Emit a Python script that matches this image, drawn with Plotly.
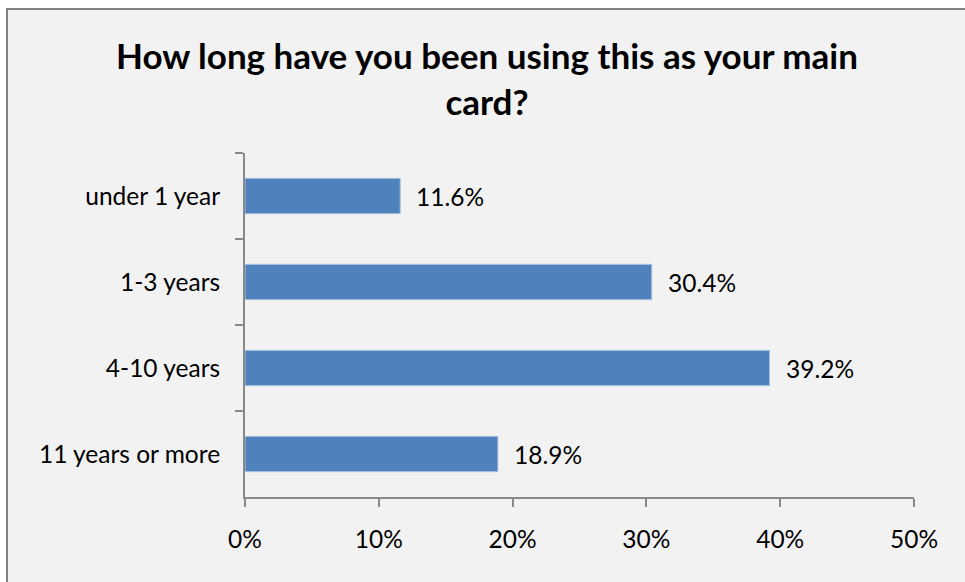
import plotly.graph_objects as go

# Survey results: how long respondents have used this as their main card
categories = ["under 1 year", "1-3 years", "4-10 years", "11 years or more"]
shares = [11.6, 30.4, 39.2, 18.9]
x_ticks = [0, 10, 20, 30, 40, 50]
x_tick_labels = ["0%", "10%", "20%", "30%", "40%", "50%"]

W, H = 965, 582
ML, MR, MT, MB = 245, 51, 153, 85
PW, PH = W - ML - MR, H - MT - MB


def px_to_paper_x(px):
    return (px - ML) / PW


def px_to_paper_y(py):
    return (H - MB - py) / PH


font_family = "Lato, 'Open Sans', sans-serif"
axis_grey = "#898989"
label_size = 24.5

fig = go.Figure()
fig.add_trace(go.Bar(
    y=categories,
    x=shares,
    orientation="h",
    marker=dict(color="#4f81bd", line=dict(color="#a9c1df", width=1)),
    hoverinfo="skip",
))

# value labels to the right of each bar
for cat, val in zip(categories, shares):
    fig.add_annotation(
        x=val, y=cat, xref="x", yref="y",
        text=f"{val:.1f}%", showarrow=False,
        xanchor="left", yanchor="middle", xshift=14,
        font=dict(family=font_family, size=label_size, color="#000000"),
    )

# chart area frame (extends past the right and bottom edges)
fig.add_shape(
    type="rect", xref="paper", yref="paper", layer="below",
    x0=px_to_paper_x(7), x1=px_to_paper_x(W + 20),
    y0=px_to_paper_y(H + 20), y1=px_to_paper_y(9),
    fillcolor="#f2f2f2", line=dict(color="#808080", width=2),
)

fig.update_layout(
    width=W, height=H,
    margin=dict(l=ML, r=MR, t=MT, b=MB, pad=0),
    paper_bgcolor="#ffffff",
    plot_bgcolor="rgba(0,0,0,0)",
    showlegend=False,
    bargap=0.59,
    title=dict(
        text="How long have you been using this as your main<br>card?",
        x=px_to_paper_x(487), xref="paper", xanchor="center",
        y=1 - 69 / H, yref="container", yanchor="top",
        font=dict(family=font_family, size=35, color="#000000", weight="bold"),
    ),
    xaxis=dict(
        range=[0, 50], tickvals=x_ticks, ticktext=x_tick_labels,
        showgrid=False, zeroline=False,
        showline=True, linecolor=axis_grey, linewidth=2,
        ticks="outside", ticklen=8, tickwidth=2, tickcolor=axis_grey,
        ticklabelstandoff=12,
        tickfont=dict(family=font_family, size=label_size, color="#000000"),
        fixedrange=True,
    ),
    yaxis=dict(
        categoryorder="array", categoryarray=categories,
        autorange="reversed",
        showgrid=False, zeroline=False,
        showline=True, linecolor=axis_grey, linewidth=2,
        ticks="outside", tickson="boundaries", ticklen=8, tickwidth=2,
        tickcolor=axis_grey,
        ticklabelstandoff=18,
        tickfont=dict(family=font_family, size=label_size, color="#000000"),
        fixedrange=True,
    ),
)

fig.write_html("out.html", config={"displayModeBar": False})
